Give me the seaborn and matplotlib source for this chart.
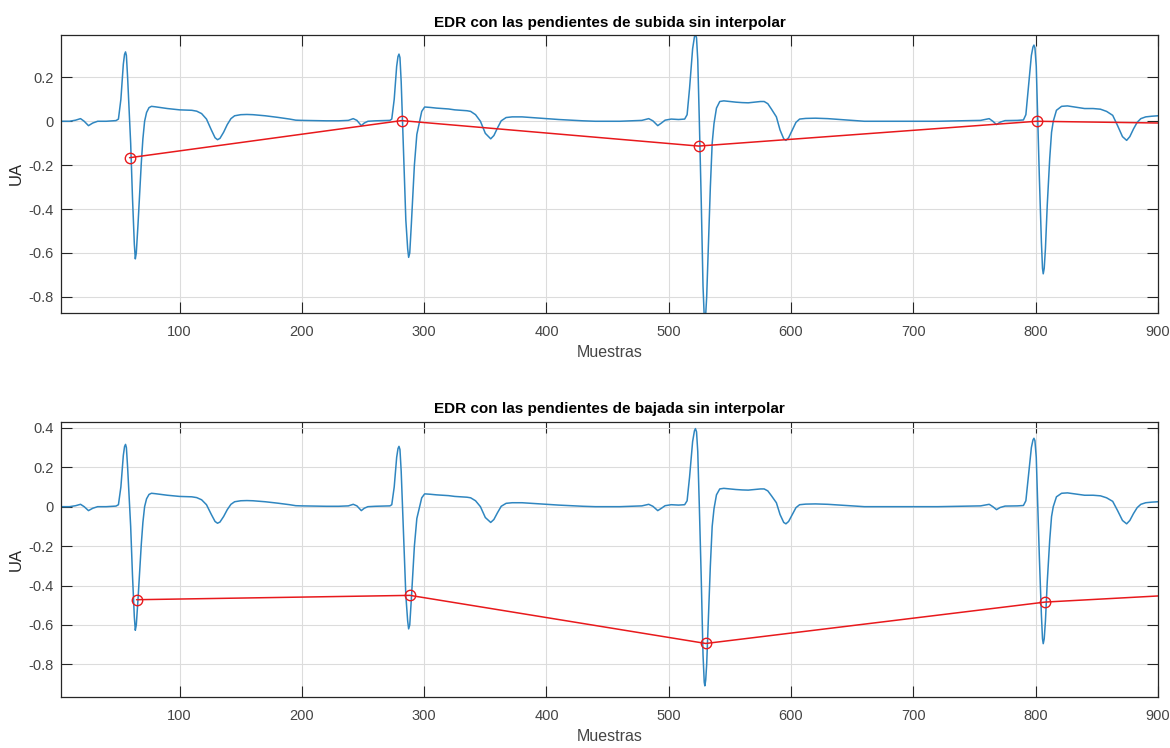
import seaborn as sns
import matplotlib.pyplot as plt

# Señal ECG (muestras y amplitud en UA)
muestras = [3, 10, 15, 19, 22, 25.5, 29, 33, 40, 48,
            50, 52, 54, 55, 55.8, 56.5, 57.5, 58.5, 60, 61.5, 63, 63.8,
            64.6, 66, 68.7, 70, 71.4, 73, 75, 77, 80, 85,
            90, 95, 100, 105, 110, 114, 118, 122, 126, 129,
            131, 133, 136, 139, 142, 145, 150, 155, 160, 170,
            180, 190, 195, 200, 210, 220, 230, 238, 242, 245,
            248.6, 251, 254, 260, 272, 273.5, 275.5, 277.5, 278.6, 279.4, 280.2,
            281.2, 282, 283.5, 285, 286.5, 287.3, 288.2, 289.5, 292, 294, 296.3,
            298, 300.4, 305, 310, 315, 320, 325, 330, 335, 338,
            342, 346, 350, 354.4, 357, 360, 363, 367, 372, 380,
            390, 400, 410, 420, 430, 440, 450, 460, 470, 478,
            483.6, 487, 491, 494, 497, 502, 508, 513, 515, 517,
            519.5, 521, 521.8, 522.7, 523.7, 525, 526.5, 528, 529, 529.5, 530.2, 531, 532.5, 534,
            535.5, 537, 539, 541.7, 545, 550, 555, 560, 565, 570,
            575, 578, 581, 584, 588, 591, 594, 595.8, 598, 601,
            604, 607, 612, 620, 630, 640, 650, 660, 680, 700,
            720, 740, 755, 762, 765, 768, 771, 775, 785, 790,
            792, 794, 796.5, 797.8, 798.6, 799.4, 800.5, 801.5, 803, 804.7, 805.6, 806.2, 807, 808,
            809.5, 811.5, 813, 814.4, 817, 821.2, 826, 832, 840, 847,
            853, 858, 863, 867, 871, 874.4, 877, 880, 883, 886,
            890, 895, 900]
ecg = [0.0, 0.0, 0.005, 0.012, 0.0, -0.02, -0.008, 0.0, 0.0, 0.003,
       0.01, 0.1, 0.26, 0.305, 0.316, 0.3, 0.2, 0.08, -0.1, -0.35, -0.56, -0.627,
       -0.6, -0.47, -0.19, -0.08, 0.0, 0.04, 0.062, 0.068, 0.066, 0.062,
       0.058, 0.055, 0.052, 0.051, 0.05, 0.046, 0.035, 0.01, -0.04, -0.075,
       -0.084, -0.078, -0.05, -0.015, 0.012, 0.025, 0.03, 0.031, 0.03, 0.025,
       0.018, 0.01, 0.005, 0.004, 0.003, 0.002, 0.002, 0.004, 0.012, 0.004,
       -0.02, -0.008, 0.0, 0.002, 0.004, 0.01, 0.1, 0.25, 0.295, 0.306, 0.29,
       0.18, 0.05, -0.2, -0.45, -0.58, -0.62, -0.6, -0.47, -0.2, -0.06, 0.0,
       0.045, 0.065, 0.063, 0.06, 0.058, 0.056, 0.052, 0.05, 0.048, 0.045,
       0.03, 0.0, -0.055, -0.08, -0.065, -0.03, 0.002, 0.017, 0.02, 0.02,
       0.016, 0.012, 0.008, 0.005, 0.002, 0.0, 0.0, 0.0, 0.002, 0.004,
       0.012, 0.002, -0.02, -0.008, 0.005, 0.01, 0.008, 0.01, 0.03, 0.15,
       0.33, 0.385, 0.396, 0.38, 0.28, 0.0, -0.35, -0.75, -0.89, -0.909, -0.88, -0.8, -0.55, -0.3,
       -0.1, -0.01, 0.06, 0.09, 0.093, 0.09, 0.087, 0.085, 0.084, 0.087,
       0.09, 0.09, 0.08, 0.055, 0.02, -0.04, -0.08, -0.087, -0.075, -0.04,
       -0.005, 0.01, 0.013, 0.014, 0.012, 0.008, 0.004, 0.0, 0.0, 0.0,
       0.0, 0.002, 0.004, 0.012, 0.0, -0.015, -0.004, 0.003, 0.004, 0.006,
       0.03, 0.15, 0.3, 0.338, 0.347, 0.335, 0.25, 0.05, -0.25, -0.55, -0.67, -0.695, -0.67, -0.58,
       -0.38, -0.17, -0.05, 0.0, 0.05, 0.068, 0.07, 0.065, 0.058, 0.058,
       0.055, 0.045, 0.027, -0.02, -0.07, -0.087, -0.07, -0.035, -0.005, 0.012,
       0.02, 0.023, 0.025]

# EDR con pendientes de subida
subida_x = [59.1, 281.5, 524.5, 800.8, 1040]
subida_y = [-0.166, 0.003, -0.113, 0.0, -0.019]

# EDR con pendientes de bajada
bajada_x = [64.8, 288.4, 530.3, 807.8, 1040]
bajada_y = [-0.472, -0.450, -0.694, -0.484, -0.406]

xticks = [100, 200, 300, 400, 500, 600, 700, 800, 900]
yticks_sub = [-0.8, -0.6, -0.4, -0.2, 0, 0.2]
yticks_baj = [-0.8, -0.6, -0.4, -0.2, 0, 0.2, 0.4]

sns.set_theme(style='whitegrid')
plt.rcParams['font.family'] = ['Liberation Sans', 'DejaVu Sans']
plt.rcParams['axes.unicode_minus'] = False

fig = plt.figure(figsize=(11.7, 7.48), dpi=100)
ax1 = fig.add_axes([0.0521, 0.5820, 0.9376, 0.3712])
ax2 = fig.add_axes([0.0521, 0.0686, 0.9376, 0.3676])

paneles = [
    (ax1, subida_x, subida_y, 'EDR con las pendientes de subida sin interpolar', (-0.872, 0.393), yticks_sub),
    (ax2, bajada_x, bajada_y, 'EDR con las pendientes de bajada sin interpolar', (-0.964, 0.431), yticks_baj),
]

for ax, px, py, titulo, ylim, yticks in paneles:
    ax.set_facecolor('white')
    sns.lineplot(x=muestras, y=ecg, ax=ax, color='#2f86c0', lw=1.1,
                 sort=False, estimator=None)
    sns.lineplot(x=px, y=py, ax=ax, color='#e8191c', lw=1.1, marker='o',
                 markersize=7.5, markerfacecolor='none', markeredgecolor='#e8191c',
                 markeredgewidth=1.0, sort=False, estimator=None)
    ax.set_xlim(3, 900)
    ax.set_ylim(*ylim)
    ax.set_xticks(xticks)
    ax.set_xticklabels([str(t) for t in xticks])
    ax.set_yticks(yticks)
    ax.set_yticklabels([f'{t:g}' for t in yticks])
    ax.grid(True, color='#dcdcdc', lw=0.8)
    for s in ax.spines.values():
        s.set_color('#262626')
        s.set_linewidth(0.9)
    ax.tick_params(axis='both', direction='in', length=8, width=0.8,
                   colors='#262626', labelcolor='#454545', labelsize=10.5,
                   top=True, right=True, bottom=True, left=True)
    ax.tick_params(axis='x', pad=9)
    ax.tick_params(axis='y', pad=5)
    ax.set_title(titulo, fontsize=11, fontweight='bold', color='black', pad=6)
    ax.set_xlabel('Muestras', fontsize=11.5, color='#454545', labelpad=4)
    ax.set_ylabel('UA', fontsize=12, color='#262626')
    ax.yaxis.set_label_coords(-0.034, 0.5)

fig.savefig('out.png', dpi=100, facecolor='white')
